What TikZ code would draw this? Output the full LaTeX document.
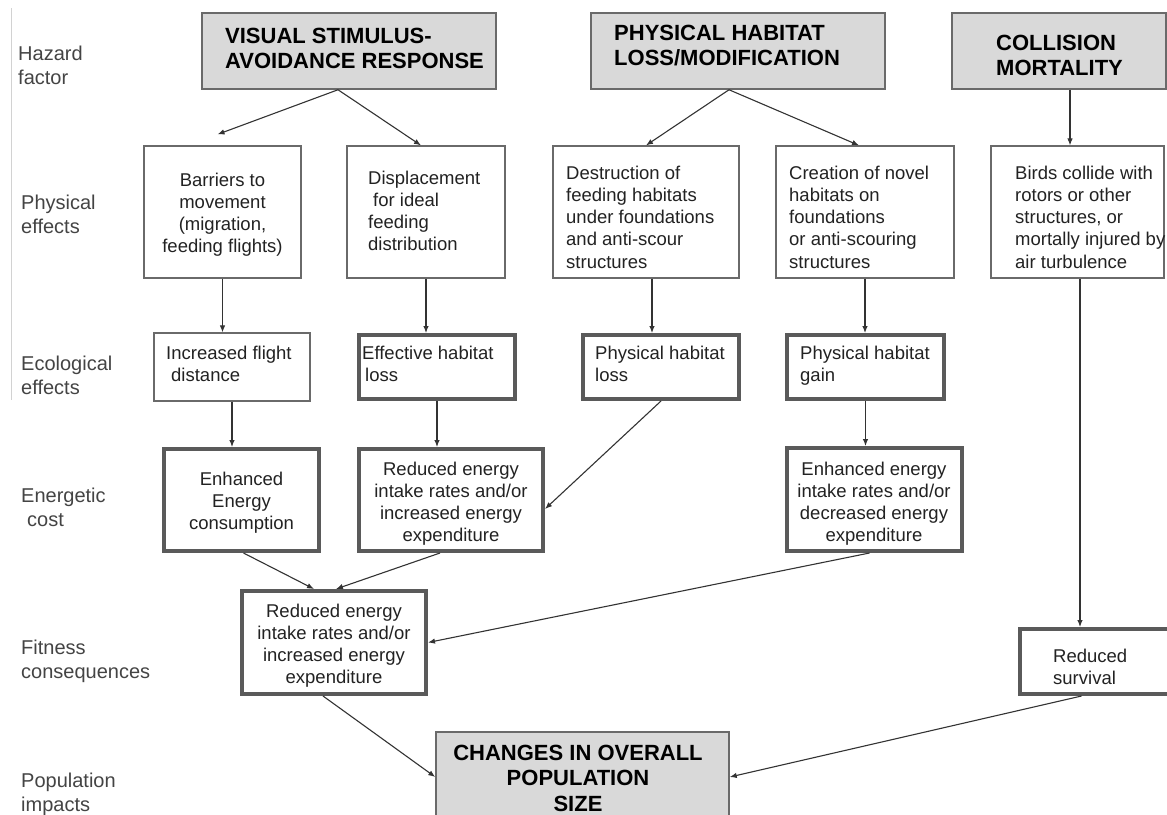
\documentclass[tikz,border=0pt]{standalone}
\usepackage{fontspec}
\setmainfont{Liberation Sans}
\usetikzlibrary{arrows.meta,fit}
\definecolor{boxgray}{HTML}{D9D9D9}
\definecolor{edgec}{HTML}{6A6A6A}
\definecolor{thickc}{HTML}{5A5A5A}
\definecolor{ink}{HTML}{222222}
\definecolor{labc}{HTML}{444444}
\definecolor{arrc}{HTML}{333333}
\begin{document}
\begin{tikzpicture}[x=1pt,y=-1pt,
  hazard/.style={draw=edgec, line width=1.5pt, fill=boxgray, inner sep=0pt},
  thinbox/.style={draw=edgec, line width=1.2pt, inner sep=0pt},
  thickbox/.style={draw=thickc, line width=4pt, inner sep=0pt},
  body/.style={font=\fontsize{18.5}{22.3}\selectfont, text=ink, inner sep=0pt},
  title/.style={font=\fontsize{22}{25.5}\selectfont\bfseries, text=black, inner sep=0pt},
  side/.style={font=\fontsize{20}{24.5}\selectfont, text=labc, inner sep=0pt, align=left, anchor=base west},
  conn/.style={draw=arrc, line width=1.1pt, -{Latex[length=7pt,width=5.5pt]}},
]
\fill[white] (0,0) rectangle (1167,814);
\useasboundingbox (0,0) rectangle (1167,814);
\draw[gray!35, line width=1pt] (11,8) -- (11,400);

% boxes
\node[hazard, fit={(202,13) (496,89)}] (vsar) {};
\node[hazard, fit={(591,13) (885,89)}] (phlm) {};
\node[hazard, fit={(952,13) (1166,89)}] (cm) {};
\node[thinbox, fit={(144,146) (301,278)}] (barr) {};
\node[thinbox, fit={(347,146) (505,278)}] (disp) {};
\node[thinbox, fit={(553,146) (739,278)}] (dest) {};
\node[thinbox, fit={(776,146) (954,278)}] (crea) {};
\node[thinbox, fit={(991,146) (1164,278)}] (birds) {};
\node[thinbox, fit={(154,333) (310,401)}] (incf) {};
\node[thickbox, fit={(359,335) (515,399)}] (eff) {};
\node[thickbox, fit={(583,335) (739,399)}] (phl) {};
\node[thickbox, fit={(787,335) (944,399)}] (gain) {};
\node[thickbox, fit={(164,449) (319,551)}] (ene) {};
\node[thickbox, fit={(359,449) (543,551)}] (red) {};
\node[thickbox, fit={(787,448) (962,551)}] (eei) {};
\node[thickbox, fit={(242,591) (426,694)}] (fitn) {};
\node[thickbox, fit={(1020,629) (1175,694)}] (rs) {};
\node[hazard, fit={(436,732) (729,822)}] (chg) {};

% side labels (anchor = baseline of last line)
\node[side] (l1) at (18,84.5) {Hazard\\factor};
\node[side] (l2) at (21,233.5) {Physical\\effects};
\node[side] (l3) at (21,394.5) {Ecological\\effects};
\node[side] (l4) at (21,526.5) {Energetic\\\hspace*{6pt}cost};
\node[side] (l5) at (21,678.5) {Fitness\\consequences};
\node[side] (l6) at (21,811.5) {Population\\impacts};

% titles
\node[title, align=left, anchor=base west] (t1) at (225,68.5) {VISUAL STIMULUS-\\AVOIDANCE RESPONSE};
\node[title, align=left, anchor=base west] (t2) at (614,65.5) {PHYSICAL HABITAT\\LOSS/MODIFICATION};
\node[title, align=left, anchor=base west] (t3) at (996,75.5) {COLLISION\\MORTALITY};
\node[title, align=center, anchor=base] (t4) at (578,811) {CHANGES IN OVERALL\\POPULATION\\SIZE};

% body texts
\node[body, align=center, anchor=base] (b1) at (222.5,252.9) {Barriers to\\movement\\(migration,\\feeding flights)};
\node[body, align=left, anchor=base west] (b2) at (368,250.9) {Displacement\\\hspace*{5pt}for ideal\\feeding\\distribution};
\node[body, align=left, anchor=base west] (b3) at (566,268.2) {Destruction of\\feeding habitats\\under foundations\\and anti-scour\\structures};
\node[body, align=left, anchor=base west] (b4) at (789,268.2) {Creation of novel\\habitats on\\foundations\\or anti-scouring\\structures};
\node[body, align=left, anchor=base west] (b5) at (1015,268.2) {Birds collide with\\rotors or other\\structures, or\\mortally injured by\\air turbulence};
\node[body, align=left, anchor=base west] (b6) at (166,381.3) {Increased flight\\\hspace*{5pt}distance};
\node[body, align=left, anchor=base west] (b7) at (362,381.3) {Effective habitat\\\hspace*{3pt}loss};
\node[body, align=left, anchor=base west] (b8) at (595,381.3) {Physical habitat\\loss};
\node[body, align=left, anchor=base west] (b9) at (800,381.3) {Physical habitat\\gain};
\node[body, align=center, anchor=base] (b10) at (241.5,529.6) {Enhanced\\Energy\\consumption};
\node[body, align=center, anchor=base] (b11) at (451,541.9) {Reduced energy\\intake rates and/or\\increased energy\\expenditure};
\node[body, align=center, anchor=base] (b12) at (874,541.9) {Enhanced energy\\intake rates and/or\\decreased energy\\expenditure};
\node[body, align=center, anchor=base] (b13) at (334,683.9) {Reduced energy\\intake rates and/or\\increased energy\\expenditure};
\node[body, align=left, anchor=base west] (b14) at (1053,684.3) {Reduced\\survival};

% connectors
\draw[conn] ([xshift=-11pt]vsar.south) -- ([xshift=-5pt,yshift=11pt]barr.north);
\draw[conn] ([xshift=-11pt]vsar.south) -- ([xshift=-5pt]disp.north);
\draw[conn] ([xshift=-9pt]phlm.south) -- (dest.north);
\draw[conn] ([xshift=-9pt]phlm.south) -- ([xshift=-6pt]crea.north);
\draw[conn] ([xshift=11pt]cm.south) -- ([xshift=11pt]cm.south |- birds.north);
\draw[conn] (barr.south) -- (barr.south |- incf.north);
\draw[conn] (disp.south) -- (disp.south |- eff.north);
\draw[conn] ([xshift=6pt]dest.south) -- ([xshift=6pt]dest.south |- phl.north);
\draw[conn] (crea.south) -- (crea.south |- gain.north);
\draw[conn] ([xshift=2.5pt]birds.south) -- ([xshift=2.5pt]birds.south |- rs.north);
\draw[conn] (incf.south) -- (incf.south |- ene.north);
\draw[conn] (eff.south) -- (eff.south |- red.north);
\draw[conn] (phl.south) -- ([yshift=-9pt]red.east);
\draw[conn] (gain.south) -- (gain.south |- eei.north);
\draw[conn] ([xshift=2pt]ene.south) -- ([xshift=-20pt]fitn.north);
\draw[conn] ([xshift=-11pt]red.south) -- ([xshift=2pt]fitn.north);
\draw[conn] ([xshift=-5pt]eei.south) -- (fitn.east);
\draw[conn] ([xshift=-11pt]fitn.south) -- (chg.west);
\draw[conn] ([xshift=-16pt]rs.south) -- (chg.east);
\end{tikzpicture}
\end{document}
